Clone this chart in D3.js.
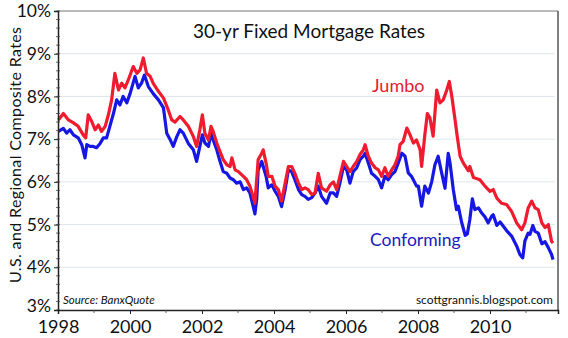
<!DOCTYPE html>
<html><head><meta charset="utf-8">
<script src="https://cdn.jsdelivr.net/npm/d3@7"></script>
<style>
html,body{margin:0;padding:0;background:#fff;}
svg{display:block;font-family:Lato,"Open Sans",sans-serif;}
</style></head>
<body>
<svg id="chart" width="568" height="338"></svg>
<script>
const titleText = "30-yr Fixed Mortgage Rates";
const yAxisTitle = "U.S. and Regional Composite Rates";
const yTicks = [3,4,5,6,7,8,9,10];
const xTicks = [1998,2000,2002,2004,2006,2008,2010];

const jumboDates = [1998.01,1998.15,1998.29,1998.43,1998.56,1998.70,1998.77,1998.84,1998.94,1999.03,1999.12,1999.21,1999.31,1999.40,1999.49,1999.58,1999.68,1999.77,1999.86,1999.95,2000.09,2000.19,2000.28,2000.37,2000.46,2000.56,2000.65,2000.79,2000.93,2001.06,2001.16,2001.25,2001.39,2001.48,2001.62,2001.76,2001.85,2001.94,2002.01,2002.08,2002.18,2002.25,2002.31,2002.41,2002.50,2002.59,2002.69,2002.78,2002.83,2002.92,2003.01,2003.15,2003.24,2003.33,2003.42,2003.47,2003.56,2003.66,2003.70,2003.78,2003.84,2003.94,2004.03,2004.12,2004.21,2004.31,2004.40,2004.49,2004.58,2004.68,2004.77,2004.86,2004.95,2005.05,2005.14,2005.23,2005.32,2005.46,2005.56,2005.65,2005.74,2005.83,2005.93,2006.02,2006.11,2006.20,2006.30,2006.39,2006.48,2006.53,2006.62,2006.71,2006.81,2006.90,2006.99,2007.08,2007.17,2007.27,2007.36,2007.45,2007.50,2007.59,2007.69,2007.78,2007.87,2007.96,2008.06,2008.10,2008.19,2008.26,2008.33,2008.42,2008.52,2008.61,2008.70,2008.80,2008.87,2008.94,2009.03,2009.09,2009.17,2009.26,2009.40,2009.44,2009.54,2009.72,2009.86,2010.00,2010.09,2010.19,2010.32,2010.46,2010.60,2010.74,2010.88,2010.97,2011.06,2011.16,2011.25,2011.34,2011.44,2011.53,2011.62,2011.71,2011.75];
const jumboRates = [7.45,7.6,7.45,7.38,7.3,7.1,7.03,7.57,7.41,7.22,7.33,7.18,7.3,7.57,7.92,8.54,8.15,8.31,8.2,8.38,8.7,8.54,8.62,8.9,8.54,8.47,8.3,8.12,7.96,7.69,7.45,7.4,7.53,7.45,7.3,7.06,6.83,7.22,7.57,7.14,6.98,7.3,7.18,6.91,6.71,6.52,6.4,6.36,6.56,6.28,6.24,6.13,6.05,5.9,5.66,5.5,6.52,6.67,6.75,6.44,6.13,6.13,5.9,5.82,5.55,5.97,6.36,6.36,6.2,5.97,5.82,5.86,5.82,5.7,5.74,6.2,5.86,5.78,5.93,6.0,5.82,6.13,6.48,6.36,6.24,6.36,6.48,6.64,6.75,6.87,6.6,6.44,6.33,6.28,6.13,6.33,6.13,6.28,6.4,6.6,6.87,6.95,7.26,7.1,6.91,6.98,6.75,6.36,7.1,7.6,7.5,7.07,8.15,7.85,7.92,8.15,8.35,8.0,7.45,7.06,6.6,6.44,6.26,6.36,6.1,6.05,5.9,5.78,5.82,5.62,5.5,5.47,5.31,5.04,4.88,5.04,5.39,5.55,5.39,5.35,5.04,4.93,5.0,4.61,4.57];

const confDates = [1998.01,1998.15,1998.24,1998.33,1998.43,1998.56,1998.66,1998.75,1998.80,1998.89,1998.98,1999.07,1999.17,1999.26,1999.35,1999.44,1999.54,1999.63,1999.72,1999.81,1999.91,2000.00,2000.14,2000.23,2000.32,2000.40,2000.51,2000.65,2000.79,2000.93,2001.02,2001.11,2001.20,2001.30,2001.39,2001.48,2001.62,2001.76,2001.85,2001.94,2002.01,2002.08,2002.18,2002.25,2002.31,2002.41,2002.50,2002.59,2002.69,2002.78,2002.87,2002.96,2003.06,2003.15,2003.24,2003.33,2003.42,2003.47,2003.52,2003.56,2003.66,2003.70,2003.78,2003.84,2003.94,2004.03,2004.12,2004.21,2004.31,2004.40,2004.49,2004.58,2004.68,2004.77,2004.86,2004.95,2005.05,2005.14,2005.23,2005.32,2005.46,2005.56,2005.65,2005.74,2005.83,2005.93,2006.02,2006.11,2006.20,2006.30,2006.39,2006.48,2006.53,2006.62,2006.71,2006.81,2006.90,2006.99,2007.08,2007.17,2007.27,2007.36,2007.45,2007.55,2007.64,2007.73,2007.82,2007.87,2007.96,2008.01,2008.10,2008.19,2008.29,2008.38,2008.47,2008.56,2008.66,2008.75,2008.84,2008.89,2008.98,2009.07,2009.12,2009.21,2009.31,2009.37,2009.44,2009.51,2009.58,2009.68,2009.77,2009.86,2009.95,2010.05,2010.09,2010.19,2010.28,2010.37,2010.46,2010.60,2010.74,2010.83,2010.91,2010.97,2011.06,2011.11,2011.19,2011.25,2011.34,2011.44,2011.53,2011.62,2011.71,2011.75];
const confRates = [7.18,7.25,7.14,7.22,7.1,7.03,6.87,6.56,6.87,6.83,6.83,6.8,6.9,7.03,7.03,7.3,7.6,7.92,7.8,8.0,7.85,8.06,8.47,8.2,8.31,8.5,8.23,8.06,7.92,7.73,7.14,7.0,6.83,7.06,7.22,7.14,6.9,6.75,6.48,6.83,7.1,6.91,6.83,7.14,6.98,6.75,6.48,6.24,6.2,6.09,6.05,5.97,6.0,5.82,5.86,5.74,5.43,5.25,5.59,6.28,6.48,6.36,6.13,5.86,5.93,5.78,5.66,5.42,5.82,6.28,6.24,6.05,5.82,5.7,5.66,5.59,5.63,5.74,5.9,5.66,5.5,5.74,5.74,5.66,5.97,6.36,6.28,5.97,6.24,6.33,6.52,6.6,6.67,6.44,6.2,6.13,6.05,5.86,6.13,6.05,6.17,6.24,6.44,6.67,6.6,6.21,6.13,6.05,5.9,5.9,5.43,5.9,5.74,6.0,6.4,6.6,6.2,5.85,6.67,6.44,5.82,5.35,5.43,5.06,4.75,4.78,5.12,5.6,5.35,5.39,5.27,5.18,5.04,5.2,5.23,4.98,5.06,4.96,4.86,4.73,4.5,4.3,4.22,4.62,4.8,4.77,4.98,4.84,4.8,4.55,4.6,4.46,4.3,4.18];

const svg = d3.select("#chart");
const L = 58, R = 558, T = 11, B = 310;
const x = d3.scaleLinear().domain([1998, 1998 + (R - L) / 36]).range([L, R]);
const y = d3.scaleLinear().domain([3, 10]).range([B, T]);

// gridlines
svg.append("g").selectAll("line").data(yTicks.filter(d => d > 3 && d < 10)).join("line")
  .attr("x1", L).attr("x2", R - 3).attr("y1", d => y(d)).attr("y2", d => y(d))
  .attr("stroke", "#dfe6ec").attr("stroke-width", 1);

// frame top & right
svg.append("line").attr("x1", L).attr("x2", R).attr("y1", T).attr("y2", T).attr("stroke", "#777").attr("stroke-width", 1.2);
svg.append("line").attr("x1", R).attr("x2", R).attr("y1", T).attr("y2", B).attr("stroke", "#555").attr("stroke-width", 1.5);

// lines
const line = d3.line().x(d => x(d[0])).y(d => y(d[1]));
const conf = confDates.map((d, i) => [d, confRates[i]]);
const jumbo = jumboDates.map((d, i) => [d, jumboRates[i]]);
svg.append("path").datum(conf).attr("d", line).attr("fill", "none")
  .attr("stroke", "#1717e3").attr("stroke-width", 3.2).attr("stroke-linejoin", "round");
svg.append("path").datum(jumbo).attr("d", line).attr("fill", "none")
  .attr("stroke", "#ee1c2e").attr("stroke-width", 3.2).attr("stroke-linejoin", "round");

// left axis
const yAxis = d3.axisLeft(y).tickValues(yTicks).tickFormat(d => d + "%").tickSize(4).tickPadding(3);
const gy = svg.append("g").attr("transform", `translate(${L},0)`).call(yAxis);
gy.select(".domain").attr("stroke", "#222").attr("stroke-width", 1.5);
gy.selectAll(".tick line").attr("stroke", "#222");
gy.selectAll("text").attr("font-size", 17.5).attr("fill", "#111").attr("font-family", "Lato, sans-serif");
gy.selectAll(".tick").filter(d => d === 3).select("text").attr("dy", "0.1em");
// minor y ticks
const yMinor = d3.range(3, 10.001, 0.2);
svg.append("g").selectAll("line").data(yMinor).join("line")
  .attr("x1", L - 2).attr("x2", L + 2).attr("y1", d => y(d)).attr("y2", d => y(d))
  .attr("stroke", "#444").attr("stroke-width", 0.8);

// bottom axis
const xAxis = d3.axisBottom(x).tickValues(xTicks).tickFormat(d3.format("d")).tickSize(4).tickPadding(6);
const gx = svg.append("g").attr("transform", `translate(0,${B})`).call(xAxis);
gx.select(".domain").attr("stroke", "#222").attr("stroke-width", 1.5);
gx.selectAll(".tick line").attr("stroke", "#222");
gx.selectAll("text").attr("font-size", 18).attr("fill", "#111").attr("font-family", "Lato, sans-serif");
svg.append("g").selectAll("line").data(d3.range(1999, 2012, 2)).join("line")
  .attr("x1", d => x(d)).attr("x2", d => x(d)).attr("y1", B).attr("y2", B + 3)
  .attr("stroke", "#444").attr("stroke-width", 0.8);

// texts
svg.append("text").attr("x", 309).attr("y", 38).attr("text-anchor", "middle")
  .attr("font-size", 19).attr("fill", "#111").text(titleText);
svg.append("text").attr("transform", "translate(21,155) rotate(-90)").attr("text-anchor", "middle")
  .attr("font-size", 16).attr("textLength", 256).attr("lengthAdjust", "spacing")
  .attr("fill", "#111").text(yAxisTitle);
svg.append("text").attr("x", 372).attr("y", 92).attr("font-size", 18).attr("fill", "#e01e2e").text("Jumbo");
svg.append("text").attr("x", 370).attr("y", 246).attr("font-size", 17.5).attr("fill", "#2020c0").text("Conforming");
svg.append("text").attr("x", 63).attr("y", 304).attr("font-size", 11.5).attr("font-style", "italic").attr("fill", "#111").text("Source: BanxQuote");
svg.append("text").attr("x", 553).attr("y", 304).attr("text-anchor", "end").attr("font-size", 12).attr("fill", "#111").text("scottgrannis.blogspot.com");
</script>
</body></html>
